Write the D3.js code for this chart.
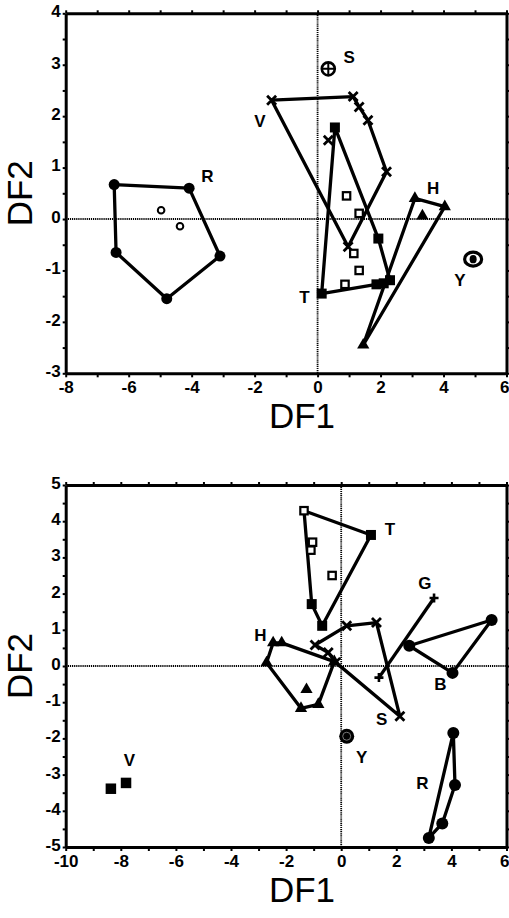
<!DOCTYPE html>
<html><head><meta charset="utf-8">
<script src="https://cdn.jsdelivr.net/npm/d3@7"></script>
<style>
body{margin:0;background:#fff;}
svg{display:block;}
.tick text{font-family:"Liberation Sans",Arial,sans-serif;font-weight:bold;font-size:17px;fill:#000;}
</style></head><body>
<svg id="c" width="509" height="918"></svg>
<script>
// ---------- TOP PANEL DATA ----------
const topXTicks = d3.range(-8, 6.01, 1);
const topYTicks = d3.range(-3, 4.01, 0.5);
const topR_hull = [[-6.46,0.67],[-4.08,0.60],[-3.1,-0.72],[-4.79,-1.55],[-6.4,-0.65]];
const topR_open = [[-4.97,0.17],[-4.37,-0.14]];
const topV_hull = [[-1.46,2.31],[1.13,2.38],[1.32,2.18],[1.6,1.92],[2.19,0.92],[0.97,-0.54]];
const topV_inner = [[0.34,1.53]];
const topT_hull = [[0.55,1.78],[1.93,-0.38],[2.3,-1.19],[1.87,-1.27],[0.13,-1.45]];
const topT_filled = [[0.55,1.78],[1.93,-0.38],[2.3,-1.19],[2.1,-1.25],[1.87,-1.27],[0.13,-1.45]];
const topT_open = [[0.92,0.45],[1.32,0.11],[1.15,-0.67],[1.32,-1.0],[0.87,-1.27]];
const topH_hull = [[3.09,0.40],[4.04,0.24],[1.45,-2.45]];
const topH_inner = [[3.33,0.06]];
const topS_point = [[0.34,2.92]];
const topY_point = [[4.94,-0.78]];
const topLabels = [["R",-3.5,0.82],["S",1.0,3.15],["V",-1.83,1.89],["T",-0.42,-1.53],["H",3.67,0.6],["Y",4.52,-1.19]];

// ---------- BOTTOM PANEL DATA ----------
const botXTicks = d3.range(-10, 6.01, 1);
const botYTicks = d3.range(-5, 5.01, 0.5);
const botT_hull = [[-1.35,4.29],[1.08,3.62],[-0.69,1.11],[-1.07,1.71]];
const botT_filled = [[1.08,3.62],[-0.69,1.11],[-1.07,1.71]];
const botT_open = [[-1.35,4.29],[-1.04,3.42],[-1.1,3.2],[-0.33,2.5]];
const botS_hull = [[-0.95,0.58],[0.2,1.11],[1.28,1.2],[2.13,-1.39],[-0.2,0.1],[-0.47,0.37]];
const botH_hull = [[-2.47,0.64],[-2.16,0.64],[-0.25,0.12],[-0.83,-1.06],[-1.46,-1.17],[-2.71,0.09]];
const botH_inner = [[-1.26,-0.65]];
const botG_line = [[3.37,1.88],[1.37,-0.32]];
const botB_hull = [[5.46,1.27],[2.47,0.56],[4.04,-0.19]];
const botR_hull = [[4.07,-1.85],[4.13,-3.29],[3.67,-4.35],[3.18,-4.75]];
const botV_points = [[-8.36,-3.39],[-7.81,-3.23]];
const botY_point = [[0.2,-1.94]];
const botLabels = [["T",1.77,3.76],["G",3.04,2.28],["B",3.6,-0.5],["S",1.47,-1.48],["H",-2.93,0.83],["Y",0.74,-2.54],["V",-7.69,-2.6],["R",2.95,-3.25]];

const svg = d3.select("#c");
const FONT = '"Liberation Sans",Arial,sans-serif';

function panel(cfg){
  const x = d3.scaleLinear().domain(cfg.xd).range([65.7, 506.5]);
  const y = d3.scaleLinear().domain(cfg.yd).range([cfg.y1, cfg.y0]);
  const g = svg.append("g");
  const W = 3;
  g.append("line").attr("x1",x.range()[0]).attr("x2",x.range()[1]).attr("y1",y(0)).attr("y2",y(0))
    .attr("stroke","#000").attr("stroke-width",1.8).attr("stroke-dasharray","1.2,0.9");
  g.append("line").attr("x1",x(0)).attr("x2",x(0)).attr("y1",y.range()[0]).attr("y2",y.range()[1])
    .attr("stroke","#000").attr("stroke-width",1.8).attr("stroke-dasharray","1.2,0.9");
  const fx = d => (Math.round(d) % 2 === 0 ? String(d) : "");
  const fy = d => (Number.isInteger(d) ? String(d) : "");
  const ax = g.append("g").attr("transform",`translate(0,${cfg.y1})`)
    .call(d3.axisBottom(x).tickValues(cfg.xt).tickFormat(fx).tickSizeInner(4).tickSizeOuter(0).tickPadding(3));
  const ay = g.append("g").attr("transform",`translate(${x.range()[0]},0)`)
    .call(d3.axisLeft(y).tickValues(cfg.yt).tickFormat(fy).tickSizeInner(3).tickSizeOuter(0).tickPadding(2));
  const at = g.append("g").attr("transform",`translate(0,${cfg.y0})`)
    .call(d3.axisTop(x).tickValues(cfg.xt).tickFormat("").tickSizeInner(3).tickSizeOuter(0));
  const ar = g.append("g").attr("transform",`translate(${x.range()[1]},0)`)
    .call(d3.axisRight(y).tickValues(cfg.yt).tickFormat("").tickSizeInner(3).tickSizeOuter(0));
  [ax,ay,at,ar].forEach(a=>{
    a.select(".domain").attr("stroke-width",W).attr("stroke","#000");
    a.selectAll(".tick line").attr("stroke-width",2).attr("stroke","#000");
  });
  ay.selectAll(".tick text").attr("dy","0.2em");
  ax.selectAll(".tick text").attr("dy","0.75em");
  // keep the last x label inside the page edge
  const lastX = cfg.xt[cfg.xt.length-1];
  ax.selectAll(".tick").filter(d=>d===lastX).select("text").attr("text-anchor","end").attr("x",2.5);
  g.append("text").attr("x",302).attr("y",cfg.y1+55).attr("text-anchor","middle")
    .attr("font-family",FONT).attr("font-size",35).text("DF1");
  g.append("text").attr("transform",`translate(32,${(cfg.y0+cfg.y1)/2}) rotate(-90)`).attr("text-anchor","middle")
    .attr("font-family",FONT).attr("font-size",35).text("DF2");
  return {g,x,y};
}

function hull(p, pts, closed=true){
  const line = d3.line().x(d=>p.x(d[0])).y(d=>p.y(d[1]));
  p.g.append("path").attr("d", line(closed ? pts.concat([pts[0]]) : pts))
    .attr("fill","none").attr("stroke","#000").attr("stroke-width",3.3).attr("stroke-linejoin","round");
}

function markers(p, pts, type, size){
  const sel = p.g.append("g").selectAll("g").data(pts).join("g")
    .attr("transform", d=>`translate(${p.x(d[0])},${p.y(d[1])})`);
  if(type==="dot") sel.append("circle").attr("r",size||5).attr("fill","#000");
  if(type==="odot") sel.append("circle").attr("r",3.3).attr("fill","#fff").attr("stroke","#000").attr("stroke-width",2);
  if(type==="sq") sel.append("path").attr("d",d3.symbol(d3.symbolSquare, (size||9)*(size||9))).attr("fill","#000");
  if(type==="osq") sel.append("rect").attr("x",-3.7).attr("y",-3.7).attr("width",7.4).attr("height",7.4)
      .attr("fill","#fff").attr("stroke","#000").attr("stroke-width",2.2);
  if(type==="tri") sel.append("path").attr("d",d3.symbol(d3.symbolTriangle, size||55)).attr("fill","#000");
  if(type==="x") sel.append("path").attr("d","M-4.5,-4.5L4.5,4.5M-4.5,4.5L4.5,-4.5").attr("stroke","#000").attr("stroke-width",2.8);
  if(type==="plus") sel.append("path").attr("d","M-4.5,0L4.5,0M0,-4.5L0,4.5").attr("stroke","#000").attr("stroke-width",2.6);
  if(type==="scirc"){
    sel.append("circle").attr("r",6.5).attr("fill","#fff").attr("stroke","#000").attr("stroke-width",2.6);
    sel.append("path").attr("d","M-6,0L6,0M0,-6L0,6").attr("stroke","#000").attr("stroke-width",2);
  }
  if(type==="yring"){
    sel.append("ellipse").attr("rx",8.5).attr("ry",7).attr("fill","#fff").attr("stroke","#000").attr("stroke-width",3.2);
    sel.append("ellipse").attr("rx",3.5).attr("ry",4.2).attr("fill","#000");
  }
  if(type==="ybig"){
    sel.append("circle").attr("r",7.5).attr("fill","#000");
    sel.append("circle").attr("r",4).attr("fill","none").attr("stroke","#777").attr("stroke-width",1);
  }
}

function labels(p, arr){
  p.g.append("g").selectAll("text").data(arr).join("text")
    .attr("x",d=>p.x(d[1])).attr("y",d=>p.y(d[2])).attr("text-anchor","middle").attr("dominant-baseline","central")
    .attr("font-family",FONT).attr("font-size",17).attr("font-weight","bold").text(d=>d[0]);
}

// ---------- TOP ----------
const P1 = panel({xd:[-8,6], yd:[-3,4], y0:13.3, y1:373.3, xt:topXTicks, yt:topYTicks});
hull(P1, topR_hull); hull(P1, topV_hull); hull(P1, topT_hull); hull(P1, topH_hull);
markers(P1, topR_hull, "dot", 5.5); markers(P1, topR_open, "odot");
markers(P1, topV_hull, "x"); markers(P1, topV_inner, "x");
markers(P1, topT_open, "osq"); markers(P1, topT_filled, "sq", 10);
markers(P1, topH_hull, "tri", 65); markers(P1, topH_inner, "tri", 65);
markers(P1, topS_point, "scirc"); markers(P1, topY_point, "yring");
labels(P1, topLabels);

// ---------- BOTTOM ----------
const P2 = panel({xd:[-10,6], yd:[-5,5], y0:485, y1:847, xt:botXTicks, yt:botYTicks});
hull(P2, botT_hull); hull(P2, botS_hull); hull(P2, botH_hull); hull(P2, botG_line, false);
hull(P2, botB_hull); hull(P2, botR_hull);
markers(P2, botT_open, "osq"); markers(P2, botT_filled, "sq", 10);
markers(P2, botS_hull, "x");
markers(P2, botH_hull, "tri", 65); markers(P2, botH_inner, "tri", 65);
markers(P2, botG_line, "plus");
markers(P2, botB_hull, "dot", 6); markers(P2, botR_hull, "dot", 6);
markers(P2, botV_points, "sq", 10.5);
markers(P2, botY_point, "ybig");
labels(P2, botLabels);
</script></body></html>
